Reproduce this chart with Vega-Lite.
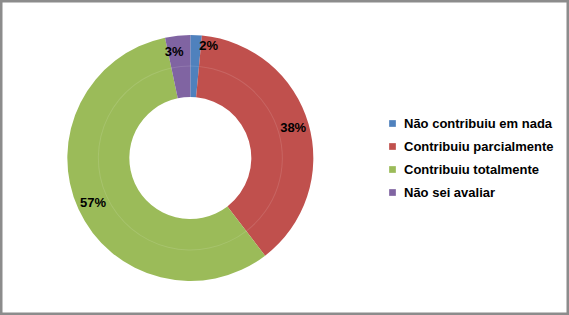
{
  "$schema": "https://vega.github.io/schema/vega-lite/v6.json",
  "width": 569,
  "height": 315,
  "autosize": {"type": "fit", "contains": "padding"},
  "padding": 0,
  "background": "white",
  "config": {"view": {"stroke": null}, "font": "Liberation Sans"},
  "datasets": {
    "fatias": [
      {"cat": "Não contribuiu em nada", "value": 1.5, "label": "2%", "ordem": 1},
      {"cat": "Contribuiu parcialmente", "value": 38.1, "label": "38%", "ordem": 2},
      {"cat": "Contribuiu totalmente", "value": 57.1, "label": "57%", "ordem": 3},
      {"cat": "Não sei avaliar", "value": 3.3, "label": "3%", "ordem": 4}
    ],
    "moldura": [{"id": 1}]
  },
  "layer": [
    {
      "data": {"name": "moldura"},
      "mark": {"type": "rect", "fill": "white", "stroke": "#8c8c8c", "strokeWidth": 5, "clip": true},
      "encoding": {}
    },
    {
      "data": {"name": "fatias"},
      "mark": {"type": "arc", "outerRadius": 123, "innerRadius": 61, "x": {"expr": "width*0.3345"}, "y": {"expr": "height/2+0.5"}},
      "encoding": {
        "theta": {"field": "value", "type": "quantitative", "stack": true},
        "order": {"field": "ordem", "type": "quantitative"},
        "color": {
          "field": "cat",
          "type": "nominal",
          "scale": {
            "domain": ["Não contribuiu em nada", "Contribuiu parcialmente", "Contribuiu totalmente", "Não sei avaliar"],
            "range": ["#4F81BD", "#C0504D", "#9BBB59", "#8064A2"]
          },
          "legend": {
            "orient": "none",
            "legendX": 386,
            "legendY": 117,
            "title": null,
            "padding": 0,
            "symbolType": "square",
            "symbolSize": 45,
            "symbolStrokeWidth": 0,
            "labelFontSize": 13,
            "labelFontWeight": "bold",
            "labelColor": "black",
            "labelFont": "Liberation Sans",
            "labelLimit": 300,
            "labelOffset": 5,
            "rowPadding": 9
          }
        }
      }
    },
    {
      "data": {"name": "fatias"},
      "mark": {"type": "arc", "outerRadius": 92.5, "innerRadius": 91.5, "fill": "white", "opacity": 0.12, "x": {"expr": "width*0.3345"}, "y": {"expr": "height/2+0.5"}},
      "encoding": {
        "theta": {"field": "value", "type": "quantitative", "stack": true},
        "order": {"field": "ordem", "type": "quantitative"}
      }
    },
    {
      "data": {"name": "fatias"},
      "mark": {"type": "text", "radius": 107, "fontSize": 13, "fontWeight": "bold", "color": "black", "font": "Liberation Sans", "x": {"expr": "width*0.3345"}, "y": {"expr": "height/2+0.5"}},
      "encoding": {
        "theta": {"field": "value", "type": "quantitative", "stack": true},
        "order": {"field": "ordem", "type": "quantitative"},
        "text": {"condition": {"test": "datum.ordem == 2 || datum.ordem == 3", "field": "label", "type": "nominal"}, "value": ""}
      }
    },
    {
      "data": {"name": "fatias"},
      "mark": {"type": "text", "radius": 112, "dx": 13, "fontSize": 13, "fontWeight": "bold", "color": "black", "font": "Liberation Sans", "x": {"expr": "width*0.3345"}, "y": {"expr": "height/2+0.5"}},
      "encoding": {
        "theta": {"field": "value", "type": "quantitative", "stack": true},
        "order": {"field": "ordem", "type": "quantitative"},
        "text": {"condition": {"test": "datum.ordem == 1", "field": "label", "type": "nominal"}, "value": ""}
      }
    },
    {
      "data": {"name": "fatias"},
      "mark": {"type": "text", "radius": 107, "dx": -5, "fontSize": 13, "fontWeight": "bold", "color": "black", "font": "Liberation Sans", "x": {"expr": "width*0.3345"}, "y": {"expr": "height/2+0.5"}},
      "encoding": {
        "theta": {"field": "value", "type": "quantitative", "stack": true},
        "order": {"field": "ordem", "type": "quantitative"},
        "text": {"condition": {"test": "datum.ordem == 4", "field": "label", "type": "nominal"}, "value": ""}
      }
    }
  ]
}
